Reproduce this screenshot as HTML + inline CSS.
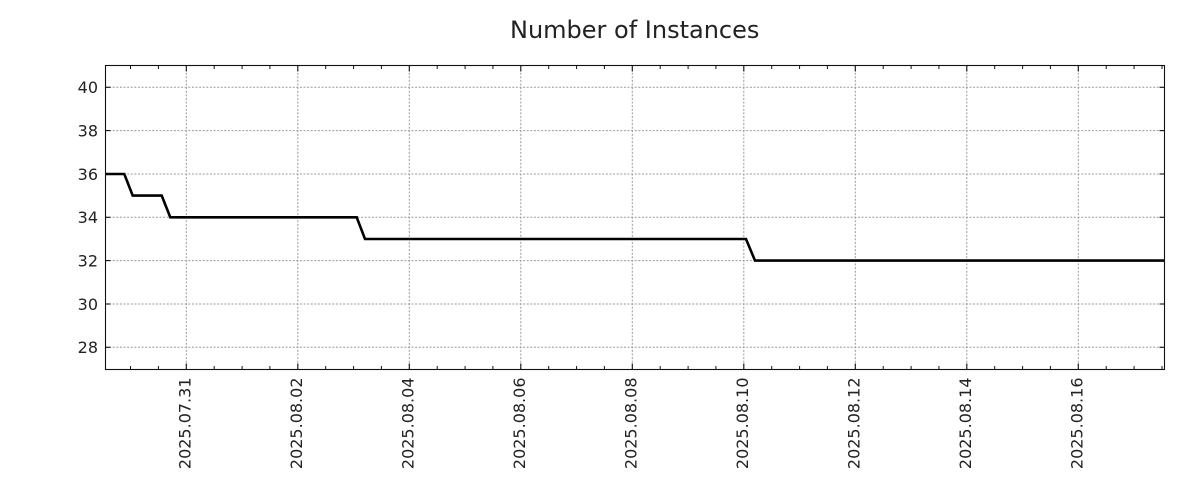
<!DOCTYPE html>
<html>
<head>
<meta charset="utf-8">
<style>
  html, body { margin: 0; padding: 0; background: #ffffff; }
  body { width: 1200px; height: 500px; overflow: hidden; }
  svg { display: block; }
  text { font-family: "DejaVu Sans", "Liberation Sans", sans-serif; fill: #222; }
</style>
</head>
<body>
<svg width="1200" height="500" viewBox="0 0 1200 500" xmlns="http://www.w3.org/2000/svg">
  <rect x="0" y="0" width="1200" height="500" fill="#ffffff"/>

  <!-- Title -->
  <text x="634.7" y="38" font-size="24" text-anchor="middle">Number of Instances</text>

  <defs>
    <clipPath id="plot">
      <rect x="105.5" y="65.5" width="1059" height="304"/>
    </clipPath>
  </defs>

  <!-- Grid lines -->
  <g stroke="#999" stroke-width="1" stroke-dasharray="2,1.6" fill="none">
    <line x1="105.5" x2="1164.5" y1="87.3" y2="87.3"/>
    <line x1="105.5" x2="1164.5" y1="130.6" y2="130.6"/>
    <line x1="105.5" x2="1164.5" y1="174" y2="174"/>
    <line x1="105.5" x2="1164.5" y1="217.3" y2="217.3"/>
    <line x1="105.5" x2="1164.5" y1="260.6" y2="260.6"/>
    <line x1="105.5" x2="1164.5" y1="304" y2="304"/>
    <line x1="105.5" x2="1164.5" y1="347.3" y2="347.3"/>

    <line y1="65.5" y2="369.5" x1="186.3" x2="186.3"/>
    <line y1="65.5" y2="369.5" x1="297.8" x2="297.8"/>
    <line y1="65.5" y2="369.5" x1="409.3" x2="409.3"/>
    <line y1="65.5" y2="369.5" x1="520.8" x2="520.8"/>
    <line y1="65.5" y2="369.5" x1="632.3" x2="632.3"/>
    <line y1="65.5" y2="369.5" x1="743.8" x2="743.8"/>
    <line y1="65.5" y2="369.5" x1="855.3" x2="855.3"/>
    <line y1="65.5" y2="369.5" x1="966.8" x2="966.8"/>
    <line y1="65.5" y2="369.5" x1="1078.3" x2="1078.3"/>
  </g>

  <!-- Data line -->
  <path clip-path="url(#plot)" d="M100,174 H124.3 L132.7,195.6 H161.7 L170.3,217.3 H356.7 L365,239 H746 L755,260.6 H1170"
        fill="none" stroke="#000" stroke-width="2.6" stroke-linejoin="miter"/>

  <!-- Axes frame -->
  <rect x="105.5" y="65.5" width="1059" height="304" fill="none" stroke="#111" stroke-width="1.1"/>

  <!-- Y major ticks (left & right, inward) -->
  <g stroke="#111" stroke-width="1.1">
    <line x1="105.5" x2="110.5" y1="87.3" y2="87.3"/>
    <line x1="105.5" x2="110.5" y1="130.6" y2="130.6"/>
    <line x1="105.5" x2="110.5" y1="174" y2="174"/>
    <line x1="105.5" x2="110.5" y1="217.3" y2="217.3"/>
    <line x1="105.5" x2="110.5" y1="260.6" y2="260.6"/>
    <line x1="105.5" x2="110.5" y1="304" y2="304"/>
    <line x1="105.5" x2="110.5" y1="347.3" y2="347.3"/>

    <line x1="1159.5" x2="1164.5" y1="87.3" y2="87.3"/>
    <line x1="1159.5" x2="1164.5" y1="130.6" y2="130.6"/>
    <line x1="1159.5" x2="1164.5" y1="174" y2="174"/>
    <line x1="1159.5" x2="1164.5" y1="217.3" y2="217.3"/>
    <line x1="1159.5" x2="1164.5" y1="260.6" y2="260.6"/>
    <line x1="1159.5" x2="1164.5" y1="304" y2="304"/>
    <line x1="1159.5" x2="1164.5" y1="347.3" y2="347.3"/>
  </g>

  <!-- X major ticks (top & bottom, inward) -->
  <g stroke="#111" stroke-width="1.1">
    <line y1="369.5" y2="363.5" x1="186.3" x2="186.3"/>
    <line y1="369.5" y2="363.5" x1="297.8" x2="297.8"/>
    <line y1="369.5" y2="363.5" x1="409.3" x2="409.3"/>
    <line y1="369.5" y2="363.5" x1="520.8" x2="520.8"/>
    <line y1="369.5" y2="363.5" x1="632.3" x2="632.3"/>
    <line y1="369.5" y2="363.5" x1="743.8" x2="743.8"/>
    <line y1="369.5" y2="363.5" x1="855.3" x2="855.3"/>
    <line y1="369.5" y2="363.5" x1="966.8" x2="966.8"/>
    <line y1="369.5" y2="363.5" x1="1078.3" x2="1078.3"/>

    <line y1="65.5" y2="71.5" x1="186.3" x2="186.3"/>
    <line y1="65.5" y2="71.5" x1="297.8" x2="297.8"/>
    <line y1="65.5" y2="71.5" x1="409.3" x2="409.3"/>
    <line y1="65.5" y2="71.5" x1="520.8" x2="520.8"/>
    <line y1="65.5" y2="71.5" x1="632.3" x2="632.3"/>
    <line y1="65.5" y2="71.5" x1="743.8" x2="743.8"/>
    <line y1="65.5" y2="71.5" x1="855.3" x2="855.3"/>
    <line y1="65.5" y2="71.5" x1="966.8" x2="966.8"/>
    <line y1="65.5" y2="71.5" x1="1078.3" x2="1078.3"/>
  </g>

  <!-- X minor ticks -->
  <g stroke="#111" stroke-width="1">
    <!-- bottom -->
    <line y1="369.5" y2="366" x1="130.5" x2="130.5"/>
    <line y1="369.5" y2="366" x1="158.4" x2="158.4"/>
    <line y1="369.5" y2="366" x1="214.2" x2="214.2"/>
    <line y1="369.5" y2="366" x1="242.1" x2="242.1"/>
    <line y1="369.5" y2="366" x1="269.9" x2="269.9"/>
    <line y1="369.5" y2="366" x1="325.7" x2="325.7"/>
    <line y1="369.5" y2="366" x1="353.6" x2="353.6"/>
    <line y1="369.5" y2="366" x1="381.4" x2="381.4"/>
    <line y1="369.5" y2="366" x1="437.2" x2="437.2"/>
    <line y1="369.5" y2="366" x1="465.1" x2="465.1"/>
    <line y1="369.5" y2="366" x1="492.9" x2="492.9"/>
    <line y1="369.5" y2="366" x1="548.7" x2="548.7"/>
    <line y1="369.5" y2="366" x1="576.6" x2="576.6"/>
    <line y1="369.5" y2="366" x1="604.4" x2="604.4"/>
    <line y1="369.5" y2="366" x1="660.2" x2="660.2"/>
    <line y1="369.5" y2="366" x1="688.1" x2="688.1"/>
    <line y1="369.5" y2="366" x1="715.9" x2="715.9"/>
    <line y1="369.5" y2="366" x1="771.7" x2="771.7"/>
    <line y1="369.5" y2="366" x1="799.6" x2="799.6"/>
    <line y1="369.5" y2="366" x1="827.4" x2="827.4"/>
    <line y1="369.5" y2="366" x1="883.2" x2="883.2"/>
    <line y1="369.5" y2="366" x1="911.1" x2="911.1"/>
    <line y1="369.5" y2="366" x1="938.9" x2="938.9"/>
    <line y1="369.5" y2="366" x1="994.7" x2="994.7"/>
    <line y1="369.5" y2="366" x1="1022.6" x2="1022.6"/>
    <line y1="369.5" y2="366" x1="1050.4" x2="1050.4"/>
    <line y1="369.5" y2="366" x1="1106.2" x2="1106.2"/>
    <line y1="369.5" y2="366" x1="1134.1" x2="1134.1"/>
    <line y1="369.5" y2="366" x1="1162" x2="1162"/>
    <!-- top -->
    <line y1="65.5" y2="69" x1="130.5" x2="130.5"/>
    <line y1="65.5" y2="69" x1="158.4" x2="158.4"/>
    <line y1="65.5" y2="69" x1="214.2" x2="214.2"/>
    <line y1="65.5" y2="69" x1="242.1" x2="242.1"/>
    <line y1="65.5" y2="69" x1="269.9" x2="269.9"/>
    <line y1="65.5" y2="69" x1="325.7" x2="325.7"/>
    <line y1="65.5" y2="69" x1="353.6" x2="353.6"/>
    <line y1="65.5" y2="69" x1="381.4" x2="381.4"/>
    <line y1="65.5" y2="69" x1="437.2" x2="437.2"/>
    <line y1="65.5" y2="69" x1="465.1" x2="465.1"/>
    <line y1="65.5" y2="69" x1="492.9" x2="492.9"/>
    <line y1="65.5" y2="69" x1="548.7" x2="548.7"/>
    <line y1="65.5" y2="69" x1="576.6" x2="576.6"/>
    <line y1="65.5" y2="69" x1="604.4" x2="604.4"/>
    <line y1="65.5" y2="69" x1="660.2" x2="660.2"/>
    <line y1="65.5" y2="69" x1="688.1" x2="688.1"/>
    <line y1="65.5" y2="69" x1="715.9" x2="715.9"/>
    <line y1="65.5" y2="69" x1="771.7" x2="771.7"/>
    <line y1="65.5" y2="69" x1="799.6" x2="799.6"/>
    <line y1="65.5" y2="69" x1="827.4" x2="827.4"/>
    <line y1="65.5" y2="69" x1="883.2" x2="883.2"/>
    <line y1="65.5" y2="69" x1="911.1" x2="911.1"/>
    <line y1="65.5" y2="69" x1="938.9" x2="938.9"/>
    <line y1="65.5" y2="69" x1="994.7" x2="994.7"/>
    <line y1="65.5" y2="69" x1="1022.6" x2="1022.6"/>
    <line y1="65.5" y2="69" x1="1050.4" x2="1050.4"/>
    <line y1="65.5" y2="69" x1="1106.2" x2="1106.2"/>
    <line y1="65.5" y2="69" x1="1134.1" x2="1134.1"/>
    <line y1="65.5" y2="69" x1="1162" x2="1162"/>
  </g>

  <!-- Y tick labels -->
  <g font-size="16" text-anchor="end">
    <text x="98" y="93.1">40</text>
    <text x="98" y="136.4">38</text>
    <text x="98" y="179.8">36</text>
    <text x="98" y="223.1">34</text>
    <text x="98" y="266.4">32</text>
    <text x="98" y="309.8">30</text>
    <text x="98" y="353.1">28</text>
  </g>

  <!-- X tick labels (rotated) -->
  <g font-size="16" text-anchor="end">
    <text transform="translate(190.3,377.5) rotate(-90)">2025.07.31</text>
    <text transform="translate(301.8,377.5) rotate(-90)">2025.08.02</text>
    <text transform="translate(413.3,377.5) rotate(-90)">2025.08.04</text>
    <text transform="translate(524.8,377.5) rotate(-90)">2025.08.06</text>
    <text transform="translate(636.3,377.5) rotate(-90)">2025.08.08</text>
    <text transform="translate(747.8,377.5) rotate(-90)">2025.08.10</text>
    <text transform="translate(859.3,377.5) rotate(-90)">2025.08.12</text>
    <text transform="translate(970.8,377.5) rotate(-90)">2025.08.14</text>
    <text transform="translate(1082.3,377.5) rotate(-90)">2025.08.16</text>
  </g>
</svg>
</body>
</html>
